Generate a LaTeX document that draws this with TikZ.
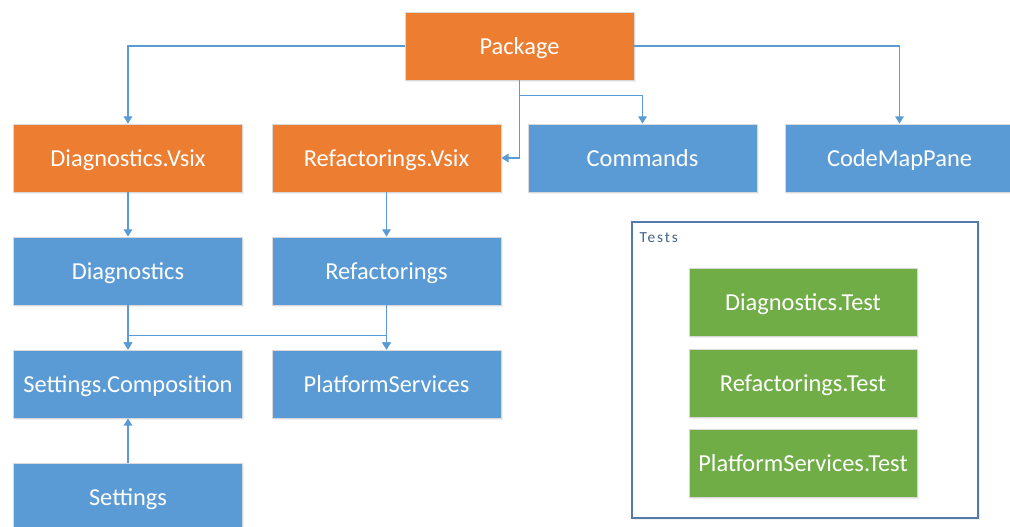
\documentclass[tikz,border=0pt]{standalone}
\usepackage{fontspec}
\setmainfont{Carlito}
\newfontfamily\spacedfont{Carlito}[LetterSpace=12]
\usetikzlibrary{arrows.meta,shadows}
\definecolor{boxorange}{RGB}{237,125,49}
\definecolor{boxblue}{RGB}{91,155,213}
\definecolor{boxgreen}{RGB}{112,173,71}
\definecolor{linkblue}{RGB}{91,155,213}
\definecolor{frameblue}{RGB}{84,122,170}
\definecolor{labelslate}{RGB}{68,98,140}
\tikzset{
  box/.style={rectangle, draw=black!15, line width=0.6pt, text=white,
    minimum width=171.75pt, minimum height=51pt, inner sep=0pt,
    text height=17pt, text depth=3.7pt,
    font=\fontsize{18.3}{22}\selectfont,
    drop shadow={opacity=0.12, shadow xshift=1.2pt, shadow yshift=-1.2pt}},
  orangebox/.style={box, fill=boxorange},
  bluebox/.style={box, fill=boxblue},
  greenbox/.style={box, fill=boxgreen, minimum width=171pt},
  container/.style={rectangle, draw=frameblue, line width=0.8pt, fill=white,
    minimum width=259.5pt, minimum height=222pt, inner sep=0pt,
    drop shadow={opacity=0.12, shadow xshift=1.2pt, shadow yshift=-1.2pt}},
  conn/.style={draw=linkblue, line width=1pt,
    -{Triangle[length=5.5pt,width=6.5pt]}}
}
\begin{document}
\begin{tikzpicture}[x=0.75pt,y=-0.75pt]
\useasboundingbox (0,0) rectangle (1010,526);

% top level
\node[orangebox] (pkg) at (519.5,46) {Package};

% second row
\node[orangebox] (dvsix) at (128,158) {Diagnostics.Vsix};
\node[orangebox] (rvsix) at (386.5,158) {Refactorings.Vsix};
\node[bluebox] (cmd) at (642.5,158) {Commands};
\node[bluebox] (cmp) at (899.5,158) {CodeMapPane};

% libraries
\node[bluebox] (diag) at (128,271) {Diagnostics};
\node[bluebox] (refac) at (386.5,271) {Refactorings};
\node[bluebox] (setcomp) at (128,384) {Settings.Composition};
\node[bluebox] (plat) at (386.5,384) {PlatformServices};
\node[bluebox] (sett) at (128,497) {Settings};

% test projects
\node[container] (tests) at (805,370) {};
\node[anchor=north west, inner sep=0pt, text=labelslate,
  font=\spacedfont\fontsize{11.5}{13}\selectfont] (testslabel)
  at ([xshift=6pt,yshift=-8pt]tests.north west) {Tests};
\node[greenbox] (dtest) at (803,302) {Diagnostics.Test};
\node[greenbox] (rtest) at (803,383) {Refactorings.Test};
\node[greenbox] (ptest) at (803,463) {PlatformServices.Test};

% dependencies
\draw[conn] (pkg.west) -| (dvsix.north);
\draw[conn] (pkg.east) -| (cmp.north);
\draw[conn] (pkg.south) |- (rvsix.east);
\draw[conn] (pkg.south) -- ++(0,15) -| (cmd.north);
\draw[conn] (dvsix.south) -- (diag.north);
\draw[conn] (rvsix.south) -- (refac.north);
\draw[conn] (diag.south) -- (setcomp.north);
\draw[conn] (refac.south) -- (plat.north);
\draw[conn] (diag.south) -- ++(0,30) -| (plat.north);
\draw[conn] (refac.south) -- ++(0,30) -| (setcomp.north);
\draw[conn] (sett.north) -- (setcomp.south);
\end{tikzpicture}
\end{document}
